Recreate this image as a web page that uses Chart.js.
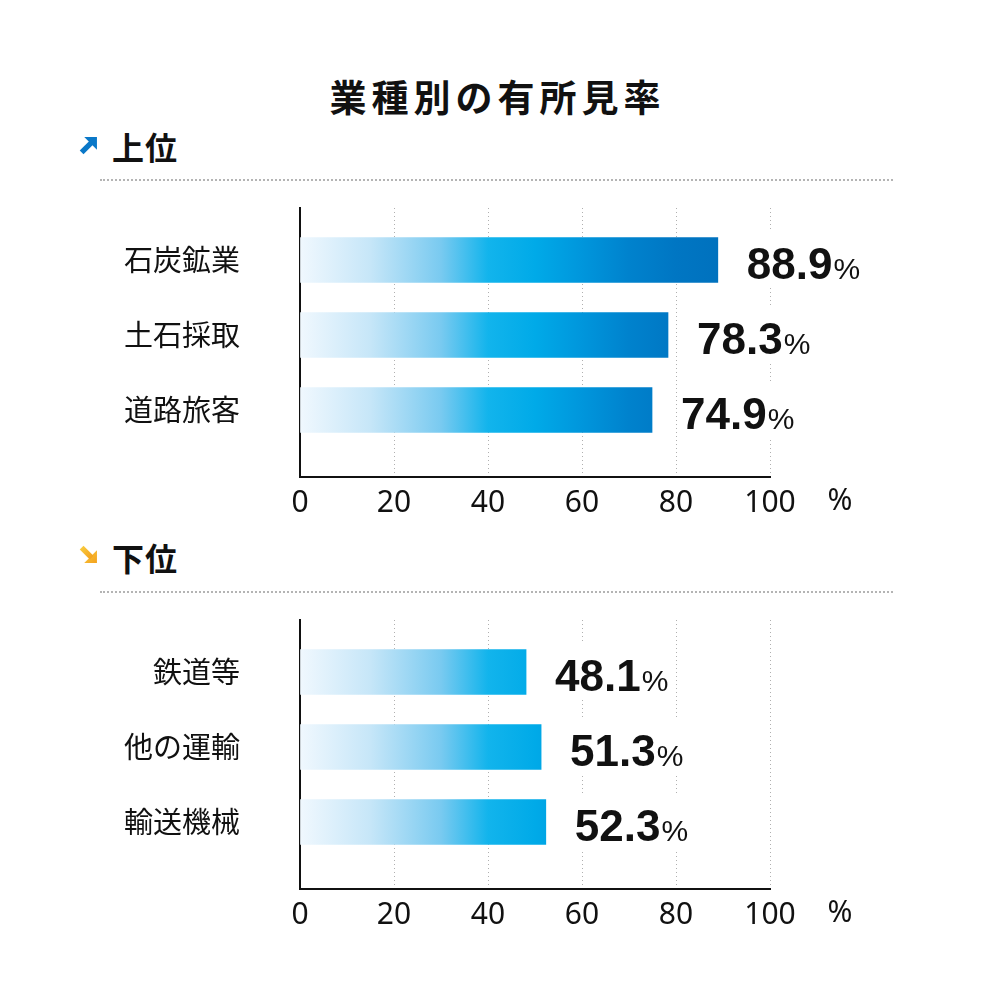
<!DOCTYPE html>
<html lang="ja">
<head>
<meta charset="utf-8">
<script src="https://cdn.jsdelivr.net/npm/chart.js@4"></script>
<style>
  html, body { margin: 0; padding: 0; background: #fff; }
  body { width: 990px; height: 990px; position: relative; overflow: hidden;
         font-family: "Noto Sans CJK JP", sans-serif; color: #111; }
  .title { position: absolute; left: 0; width: 990px; top: 76px; text-align: center;
           font-size: 37px; font-weight: 700; line-height: 40px; letter-spacing: 5px; padding-left: 5px; box-sizing: border-box; }
  .sec { position: absolute; left: 112px; font-size: 32px; font-weight: 700; line-height: 36px; letter-spacing: 1px; }
  .arrow { position: absolute; left: 79px; width: 19px; height: 19px; }
  .rule { position: absolute; left: 100px; width: 793px; border-top: 2px dotted #b4b4b4; }
  canvas { position: absolute; left: 0; }
</style>
</head>
<body>
<div class="title">業種別の有所見率</div>

<svg class="arrow" style="top:136px" viewBox="0 0 18 18">
  <polygon points="5,1 17,1 17,13" fill="#0a78c8"/>
  <line x1="2.5" y1="15.5" x2="12" y2="6" stroke="#0a78c8" stroke-width="5"/>
</svg>
<div class="sec" style="top:128px">上位</div>
<div class="rule" style="top:179px"></div>
<canvas id="upper" width="990" height="340" style="top:190px"></canvas>

<svg class="arrow" style="top:545px" viewBox="0 0 18 18">
  <defs><linearGradient id="og" x1="0" y1="0" x2="1" y2="1">
    <stop offset="0" stop-color="#f8c93c"/><stop offset="1" stop-color="#f4a21e"/></linearGradient></defs>
  <polygon points="17,5 17,17 5,17" fill="url(#og)"/>
  <line x1="2.5" y1="2.5" x2="12" y2="12" stroke="url(#og)" stroke-width="5"/>
</svg>
<div class="sec" style="top:539px">下位</div>
<div class="rule" style="top:591px"></div>
<canvas id="lower" width="990" height="340" style="top:602px"></canvas>

<script>
// values (有所見率, %)
const upperLabels = ["石炭鉱業", "土石採取", "道路旅客"];
const upperValues = [88.9, 78.3, 74.9];
const lowerLabels = ["鉄道等", "他の運輸", "輸送機械"];
const lowerValues = [48.1, 51.3, 52.3];
const xTickStep = 20;
const unit = "%";

// blue ramp laid over the whole 0-100 axis, so short bars stay lighter
const RAMP = [
  [0, "#f0f8fe"], [0.15, "#c6e6f8"], [0.3, "#79caf0"], [0.4, "#12b4ec"],
  [0.5, "#00aae8"], [0.6, "#0096dc"], [0.7, "#0082cd"], [0.8, "#0076c3"], [1, "#006cb8"],
];

function barGradient(c) {
  const { chart } = c;
  if (!chart.chartArea) return "#00aeea";
  const x = chart.scales.x;
  const g = chart.ctx.createLinearGradient(x.getPixelForValue(0), 0, x.getPixelForValue(100), 0);
  RAMP.forEach(([o, col]) => g.addColorStop(o, col));
  return g;
}

const valueLabels = {
  id: "valueLabels",
  afterDatasetsDraw(chart) {
    const ctx = chart.ctx;
    const pts = chart.data.datasets[0].data;
    chart.getDatasetMeta(0).data.forEach((bar, i) => {
      const num = pts[i].x.toFixed(1);
      ctx.save();
      ctx.font = 'bold 44px "Liberation Sans", Arial, sans-serif';
      const w1 = ctx.measureText(num).width;
      ctx.font = '30px "Liberation Sans", Arial, sans-serif';
      const w2 = ctx.measureText(unit).width;
      const x0 = bar.x + 29, base = bar.y + 19;
      ctx.fillStyle = "#fff";
      ctx.fillRect(x0 - 4, bar.y - 28, w1 + w2 + 10, 56);
      ctx.fillStyle = "#111";
      ctx.textBaseline = "alphabetic";
      ctx.textAlign = "left";
      ctx.font = 'bold 44px "Liberation Sans", Arial, sans-serif';
      ctx.fillText(num, x0, base);
      ctx.font = '30px "Liberation Sans", Arial, sans-serif';
      ctx.fillText(unit, x0 + w1 + 1, base);
      ctx.restore();
    });
  },
};

const axisUnit = {
  id: "axisUnit",
  afterDraw(chart) {
    const ctx = chart.ctx;
    ctx.save();
    ctx.font = '30px "Noto Sans", sans-serif';
    ctx.fillStyle = "#111";
    ctx.textAlign = "center";
    ctx.textBaseline = "middle";
    ctx.fillText(unit, chart.scales.x.right + 70, chart.chartArea.bottom + 24);
    ctx.restore();
  },
};

function buildChart(id, labels, values) {
  return new Chart(document.getElementById(id), {
    type: "bar",
    data: {
      datasets: [{
        data: values.map((v, i) => ({ x: v, y: i })),
        backgroundColor: barGradient, barThickness: 45, borderWidth: 0,
      }],
    },
    options: {
      indexAxis: "y", responsive: false, animation: false,
      layout: { padding: { top: 18, right: 220, left: 0, bottom: 0 } },
      plugins: { legend: { display: false }, tooltip: { enabled: false } },
      scales: {
        x: {
          type: "linear", min: 0, max: 100,
          ticks: { stepSize: xTickStep, color: "#111", padding: 8,
            font: { family: '"Noto Sans", sans-serif', size: 30 } },
          grid: { color: "#b0b0b0", lineWidth: 1, drawTicks: false },
          border: { color: "#111", width: 2, dash: [1, 3] },
          afterFit(s) { s.height = 53; },
        },
        y: {
          type: "linear", reverse: true, offset: false, min: -0.693, max: 2.893,
          afterBuildTicks(s) { s.ticks = labels.map((_, i) => ({ value: i })); },
          ticks: { autoSkip: false, callback: (v) => labels[v] ?? "", color: "#111", padding: 60,
            font: { family: '"Noto Sans CJK JP", sans-serif', size: 29 } },
          grid: { offset: false, drawOnChartArea: false, drawTicks: false },
          border: { color: "#111", width: 2 },
          afterFit(s) { s.width = 300; s.paddingTop = 0; s.paddingBottom = 0; },
        },
      },
    },
    plugins: [valueLabels, axisUnit],
  });
}

buildChart("upper", upperLabels, upperValues);
buildChart("lower", lowerLabels, lowerValues);
</script>
</body>
</html>
